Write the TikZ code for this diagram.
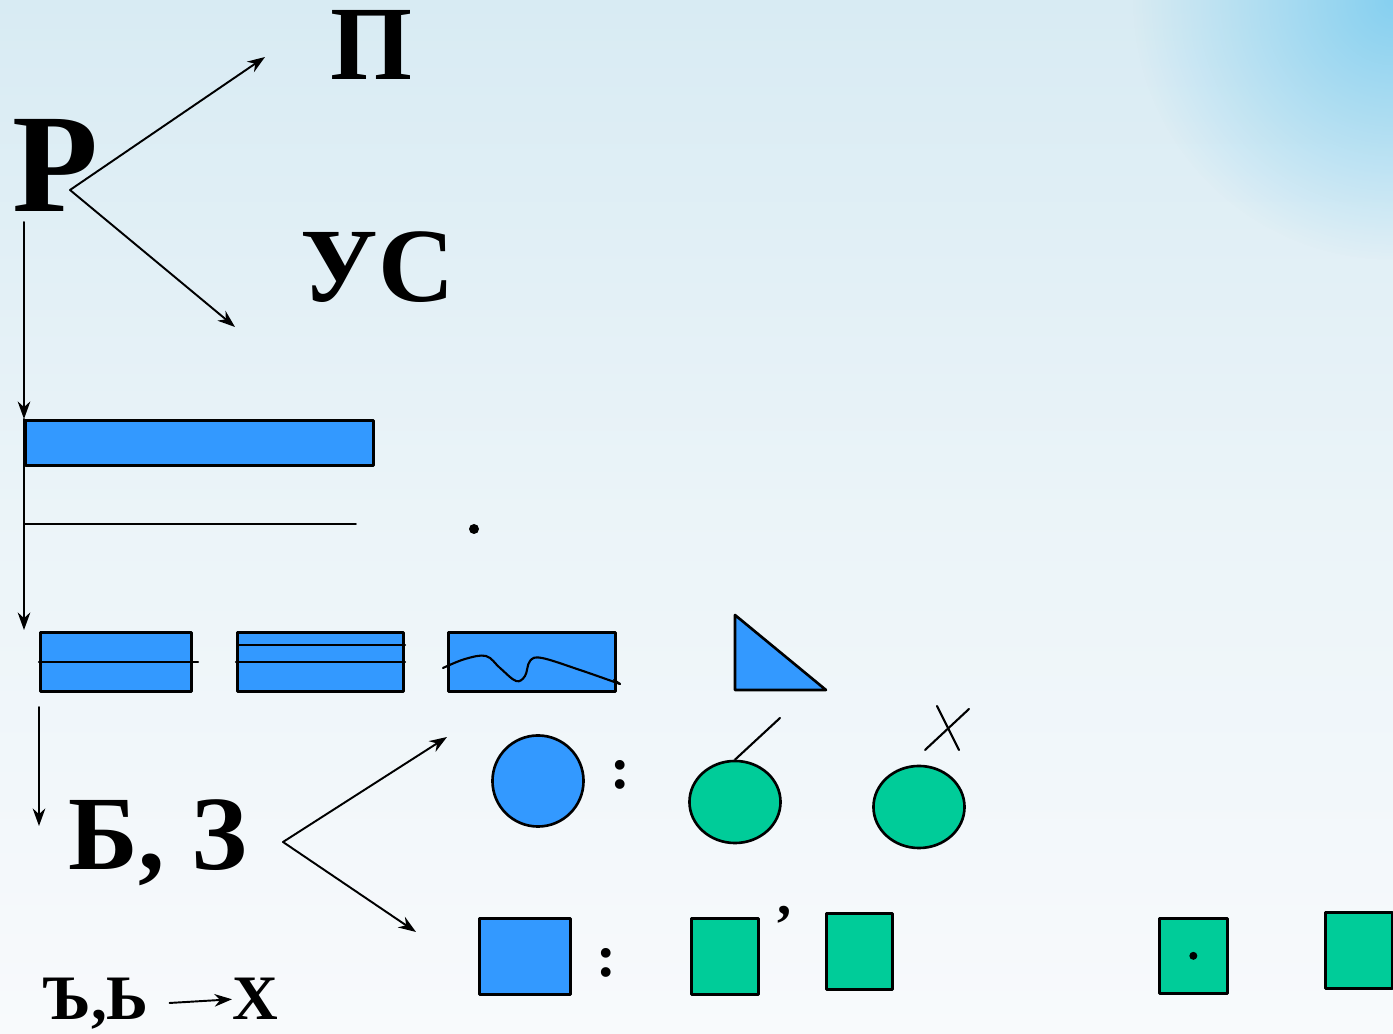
\documentclass[tikz,border=0pt]{standalone}
\usepackage{fontspec}
\setmainfont{Liberation Serif}
\usetikzlibrary{arrows.meta,positioning,fadings,shapes.geometric}
\definecolor{blu}{HTML}{3399FF}
\definecolor{grn}{HTML}{00CC99}
\definecolor{bgtop}{HTML}{D8EBF3}
\definecolor{bgbot}{HTML}{F8FAFC}
\tikzfading[name=glow, inner color=transparent!0, outer color=transparent!100]

\begin{document}
\begin{tikzpicture}[x=0.01cm,y=-0.01cm,line join=round,line cap=round,>={Stealth[length=5pt,width=3.6pt]}]
\tikzset{every node/.style={inner sep=0pt},
  bigtxt/.style={font=\fontsize{#1}{#1}\selectfont\bfseries},
  bluebox/.style={draw,fill=blu,line width=0.75pt},
  greenbox/.style={draw,fill=grn,line width=0.75pt},
  arr/.style={->,line width=0.55pt}}
\useasboundingbox (0,0) rectangle (1393,1034);
\shade[top color=bgtop,bottom color=bgbot,middle color=bgbot!60!bgtop] (0,0) rectangle (1393,1034);
\fill[cyan!40!bgtop,path fading=glow] (1393,0) circle (260);
% letters on top
\node[bigtxt=40,anchor=base west] (r) at (12,212) {Р};
\node[bigtxt=30,anchor=base west] (p) at (330,80) {П};
\node[bigtxt=30,anchor=base west] (us) at (300,302) {УС};
\coordinate (rtip) at (70,190);
\coordinate (pend) at (265,57);
\coordinate (usend) at (235,327);
\draw[arr] (rtip)--(pend);
\draw[arr] (rtip)--(usend);
% long bar and line
\node[bluebox,anchor=north west,minimum width=3.48cm,minimum height=0.45cm] (bar) at (24,419) {};
\coordinate (v0) at (24,222);
\coordinate (v1) at (24,630);
\draw[arr] (v0)--(bar.north west);
\draw[arr] (bar.north west)--(v1);
\coordinate (h0) at (24,524);
\draw[line width=0.5pt] (h0)--++(332,0);
\fill (474,529) circle (5);
% row of boxes
\node[bluebox,anchor=north west,minimum width=1.51cm,minimum height=0.59cm] (b1) at (39,631) {};
\node[bluebox,anchor=north west,minimum width=1.66cm,minimum height=0.59cm] (b2) at (236,631) {};
\node[bluebox,anchor=north west,minimum width=1.67cm,minimum height=0.59cm] (b3) at (447,631) {};
\draw[line width=0.6pt] (b1.west)--++(159,0);
\draw[line width=0.6pt] (238,645)--(405,645);
\draw[line width=0.6pt] (b2.west)--++(169,0);
\draw[line width=0.6pt] plot[smooth,tension=0.6] coordinates {(443,668) (465,659) (486,656) (500,668) (516,681) (525,676) (530,661) (542,658) (580,670) (620,684)};
\draw[line width=0.6pt] (620,684)--(614,680);
\draw[bluebox] (735,615)--(735,690)--(826,690)--cycle;
% second branch
\coordinate (d0) at (39,707);
\coordinate (d1) at (39,826);
\draw[arr] (d0)--(d1);
\node[bigtxt=30,anchor=base west] (bz) at (68,870) {Б, З};
\coordinate (bztip) at (283,842);
\coordinate (upend) at (447,737);
\coordinate (dnend) at (416,932);
\draw[arr] (bztip)--(upend);
\draw[arr] (bztip)--(dnend);
% circles
\node[ellipse,bluebox,minimum width=0.91cm,minimum height=0.91cm] (c1) at (538,781) {};
\node[bigtxt=17,anchor=base] (col1) at (620,789) {:};
\node[ellipse,greenbox,minimum width=0.91cm,minimum height=0.82cm] (c2) at (735,802) {};
\node[ellipse,greenbox,minimum width=0.91cm,minimum height=0.82cm] (c3) at (919,807) {};
\draw[line width=0.6pt] (c2.north)--(780,718);
\draw[line width=0.6pt] (925,750)--(969,709);
\draw[line width=0.6pt] (937,706)--(959,750);
% squares
\node[bluebox,anchor=north west,minimum width=0.91cm,minimum height=0.76cm] (s1) at (478,917) {};
\node[bigtxt=17,anchor=base] (col2) at (606,977) {:};
\node[greenbox,anchor=north west,minimum width=0.67cm,minimum height=0.76cm] (g1) at (690,917) {};
\node[bigtxt=16,anchor=base] (cm) at (785,915) {,};
\node[greenbox,anchor=north west,minimum width=0.66cm,minimum height=0.76cm] (g2) at (825,912) {};
\node[greenbox,anchor=north west,minimum width=0.68cm,minimum height=0.75cm] (g3) at (1158,917) {};
\fill (g3.center) circle (4);
\node[greenbox,anchor=north west,minimum width=0.67cm,minimum height=0.76cm] (g4) at (1324,911) {};
% bottom line
\node[bigtxt=18,anchor=base west] (hs) at (42,1020) {Ъ,Ь};
\node[bigtxt=18,anchor=base west] (kh) at (232,1020) {Х};
\draw[arr,shorten <=0.2cm] (hs.east)--(kh.west);
\end{tikzpicture}
\end{document}
